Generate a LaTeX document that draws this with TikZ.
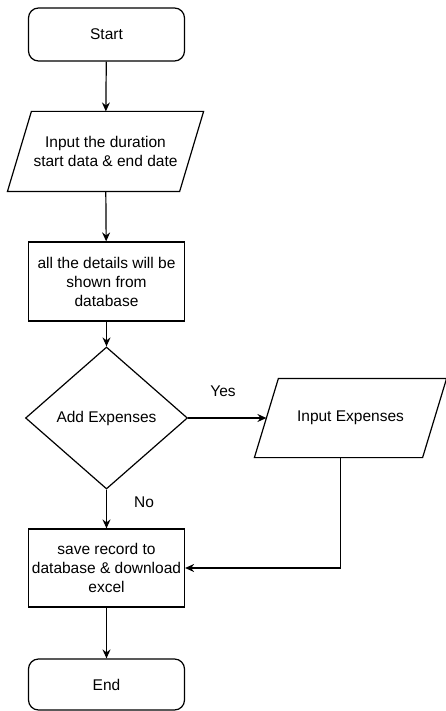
\documentclass[tikz,border=0pt]{standalone}
\usepackage{fontspec}
\setmainfont{Liberation Sans}
\usetikzlibrary{shapes.geometric,arrows.meta}

\tikzset{
  terminal/.style={draw, rounded corners=10pt, minimum width=156pt, minimum height=53pt, align=center},
  io/.style={minimum height=79pt, inner sep=0pt, align=center},
  process/.style={draw, minimum width=156pt, minimum height=79pt, inner sep=0pt, align=center},
  decision/.style={draw, diamond, minimum width=162pt, minimum height=142pt, inner sep=0pt, align=center},
  arrow/.style={-{Stealth[length=9pt,width=8pt,inset=3pt]}}
}

\begin{document}
\begin{tikzpicture}[x=1pt, y=-1pt, line width=1.2pt, font=\fontsize{15.5}{19}\selectfont]
        \useasboundingbox (0,0) rectangle (446,711);

        % draw nodes
        \node[terminal] (start) at (106.5,34.5) {Start};
        \node[io, minimum width=195pt] (inp) at (105.5,151.5) {Input the duration\\start data \& end date};
        \node[process] (show) at (106.5,281.5) {all the details will be\\shown from\\database};
        \node[decision] (add) at (106.5,418) {Add Expenses};
        \node[io, minimum width=191pt, minimum height=78pt] (inexp) at (350.5,418) {Input Expenses};
        \node[process, minimum height=78pt] (save) at (106.5,568) {save record to\\database \& download\\excel};
        \node[terminal, minimum height=51pt] (end) at (106.5,684.5) {End};

        % draw parallelograms
        \foreach \n in {inp,inexp}
          \draw ([xshift=24pt]\n.north west) -- (\n.north east) -- ([xshift=-24pt]\n.south east) -- (\n.south west) -- cycle;

        % draw labels
        \node (lblyes) at (223,391) {Yes};
        \node (lblno) at (144,502) {No};

        % draw arrows
        \draw[arrow] (start) -- (inp);
        \draw[arrow] (inp) -- (show);
        \draw[arrow] (show) -- (add);
        \draw[arrow] (add) -- ([xshift=12pt]inexp.west);
        \draw[arrow] (add) -- (save);
        \draw[arrow] ([xshift=-10pt]inexp.south) |- (save.east);
        \draw[arrow] (save) -- (end);
\end{tikzpicture}
\end{document}
